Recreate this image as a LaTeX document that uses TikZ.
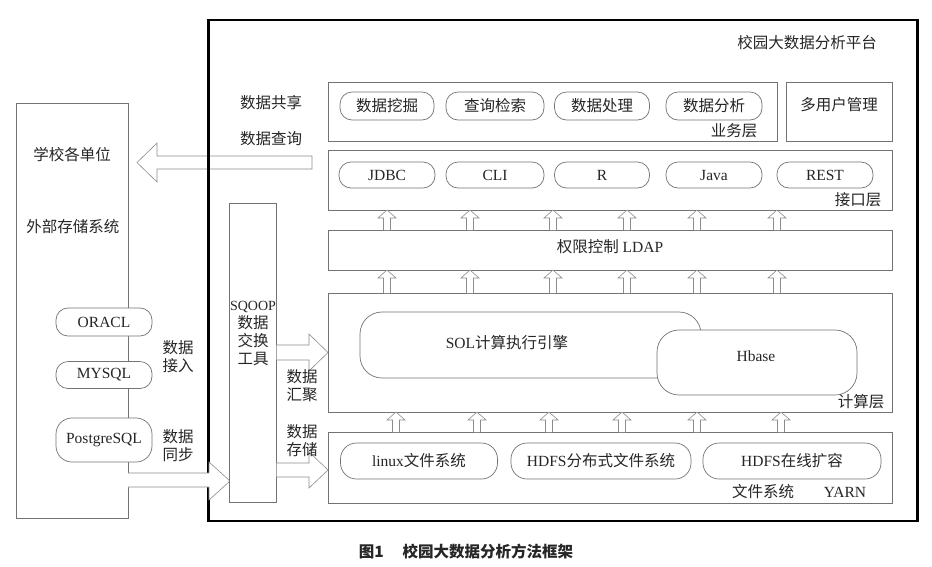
\documentclass[tikz,border=0pt]{standalone}
\usepackage{fontspec}
\setmainfont{Liberation Serif}
\newfontfamily\cjk{Noto Sans CJK SC}
\newcommand{\zhs}[1]{{\cjk #1}}
\begin{document}
\begin{tikzpicture}[x=1pt,y=-1pt,
  every node/.style={font=\fontsize{15.5}{18}\selectfont, text=black!85, inner sep=0pt, align=center},
  box/.style={draw=black!55, line width=0.7pt, fill=white},
  pill/.style={box, rounded corners=12pt},
  blk/.style={draw=black!45, line width=0.6pt, fill=white, line join=miter}
]
\fill[white] (0,0) rectangle (932,566);
\useasboundingbox (0,0) rectangle (932,566);

% big left arrow (data sharing / query)
\filldraw[blk] (312,156) -- (157,156) -- (157,143) -- (137,162.5) -- (157,182) -- (157,169) -- (312,169) -- cycle;

% platform frame
\node[draw=black, line width=2.4pt, minimum width=709pt, minimum height=501pt] (plat) at (563,270.5) {};
\node (ttl) at (807,43) {\zhs{校园大数据分析平台}};

% external storage box
\node[box, minimum width=112pt, minimum height=415pt] (ext) at (72,310.5) {};
\node (units) at (72,155) {\zhs{学校各单位}};
\node (store) at (73,227) {\zhs{外部存储系统}};
\node[pill, minimum width=96pt, minimum height=28pt] (oracl) at (104,322) {ORACL};
\node[pill, minimum width=96pt, minimum height=27pt] (mysql) at (104,375) {MYSQL};
\node[pill, minimum width=96pt, minimum height=44pt, rounded corners=16pt] (pg) at (104,440) {PostgreSQL};
\node (jr) at (178,357) {\zhs{数据}\\\zhs{接入}};
\node (tb) at (178,446) {\zhs{数据}\\\zhs{同步}};

% data sharing labels
\node (gx) at (271,103) {\zhs{数据共享}};
\node (cx) at (271,139) {\zhs{数据查询}};

% bottom arrow ext -> sqoop
\filldraw[blk] (128,473) -- (209,473) -- (209,462) -- (230,481) -- (209,500) -- (209,487) -- (128,487);

% SQOOP box
\node[box, minimum width=47pt, minimum height=299pt] (sqoop) at (253,353) {};
\node (sqtxt) at (253,333) {{\fontsize{14}{18}\selectfont SQOOP}\\\zhs{数据}\\\zhs{交换}\\\zhs{工具}};

% arrows sqoop -> compute / fs
\filldraw[blk] (276.5,345) -- (309,345) -- (309,334) -- (328,352.5) -- (309,371) -- (309,360) -- (276.5,360);
\filldraw[blk] (276.5,463) -- (309,463) -- (309,452) -- (328,470) -- (309,488) -- (309,477) -- (276.5,477);
\node (hj) at (302,386) {\zhs{数据}\\\zhs{汇聚}};
\node (cc) at (302,441) {\zhs{数据}\\\zhs{存储}};

% layers
\node[box, minimum width=449pt, minimum height=59pt] (biz) at (552.5,111.5) {};
\node[box, minimum width=106pt, minimum height=59pt] (user) at (839,111.5) {};
\node (usertxt) at (839,105) {\zhs{多用户管理}};
\node[box, minimum width=564pt, minimum height=60pt] (api) at (610,180) {};
\node[box, minimum width=564pt, minimum height=40pt] (ldap) at (610,250) {};
\node (ldaptxt) at (610,247) {\zhs{权限控制} LDAP};
\node[box, minimum width=564pt, minimum height=119pt] (comp) at (610,352.5) {};
\node[box, minimum width=564pt, minimum height=71pt] (fs) at (610,467.5) {};

% business layer
\node[pill, minimum width=94pt, minimum height=28pt] (wj) at (387,106) {\zhs{数据挖掘}};
\node[pill, minimum width=98pt, minimum height=28pt] (cxjs) at (495,106) {\zhs{查询检索}};
\node[pill, minimum width=95pt, minimum height=28pt] (cl) at (602,106) {\zhs{数据处理}};
\node[pill, minimum width=96pt, minimum height=28pt] (fx) at (714,106) {\zhs{数据分析}};
\node (ywc) at (734,131) {\zhs{业务层}};

% interface layer
\node[pill, minimum width=96pt, minimum height=26pt] (jdbc) at (387,175) {JDBC};
\node[pill, minimum width=98pt, minimum height=26pt] (cli) at (495,175) {CLI};
\node[pill, minimum width=95pt, minimum height=26pt] (r) at (602,175) {R};
\node[pill, minimum width=96pt, minimum height=26pt] (java) at (714,175) {Java};
\node[pill, minimum width=96pt, minimum height=26pt] (rest) at (825,175) {REST};
\node (jkc) at (858,200) {\zhs{接口层}};

% compute layer
\node[box, rounded corners=22pt, minimum width=341pt, minimum height=66pt] (sql) at (530.5,345) {};
\node (sqltxt) at (507,343) {SOL\zhs{计算执行引擎}};
\node[box, rounded corners=22pt, minimum width=200pt, minimum height=65pt] (hbase) at (757,362.5) {};
\node (hbtxt) at (756,356) {Hbase};
\node (jsc) at (861,402) {\zhs{计算层}};

% file system layer
\node[pill, rounded corners=16pt, minimum width=157pt, minimum height=36pt] (linux) at (419,461) {linux\zhs{文件系统}};
\node[pill, rounded corners=16pt, minimum width=180pt, minimum height=36pt] (hdfs) at (601,461) {HDFS\zhs{分布式文件系统}};
\node[pill, rounded corners=16pt, minimum width=178pt, minimum height=36pt] (hdfsk) at (792,461) {HDFS\zhs{在线扩容}};
\node (wjxt) at (763,492) {\zhs{文件系统}};
\node (yarn) at (845,492) {YARN};

% small up arrows
\foreach \x in {387,470,553,627,697,777}{
  \filldraw[blk] (\x-3.5,230) -- (\x-3.5,218) -- (\x-9,218) -- (\x,210) -- (\x+9,218) -- (\x+3.5,218) -- (\x+3.5,230);
  \filldraw[blk] (\x-3.5,293) -- (\x-3.5,278) -- (\x-9,278) -- (\x,270) -- (\x+9,278) -- (\x+3.5,278) -- (\x+3.5,293);
}
\foreach \x in {396,477,549,622,697,781}{
  \filldraw[blk] (\x-3.5,432) -- (\x-3.5,420) -- (\x-9,420) -- (\x,412) -- (\x+9,420) -- (\x+3.5,420) -- (\x+3.5,432);
}

% caption
\node (cap) at (466,552) {\cjk\bfseries 图1\hspace{1.2em}校园大数据分析方法框架};
\end{tikzpicture}
\end{document}
